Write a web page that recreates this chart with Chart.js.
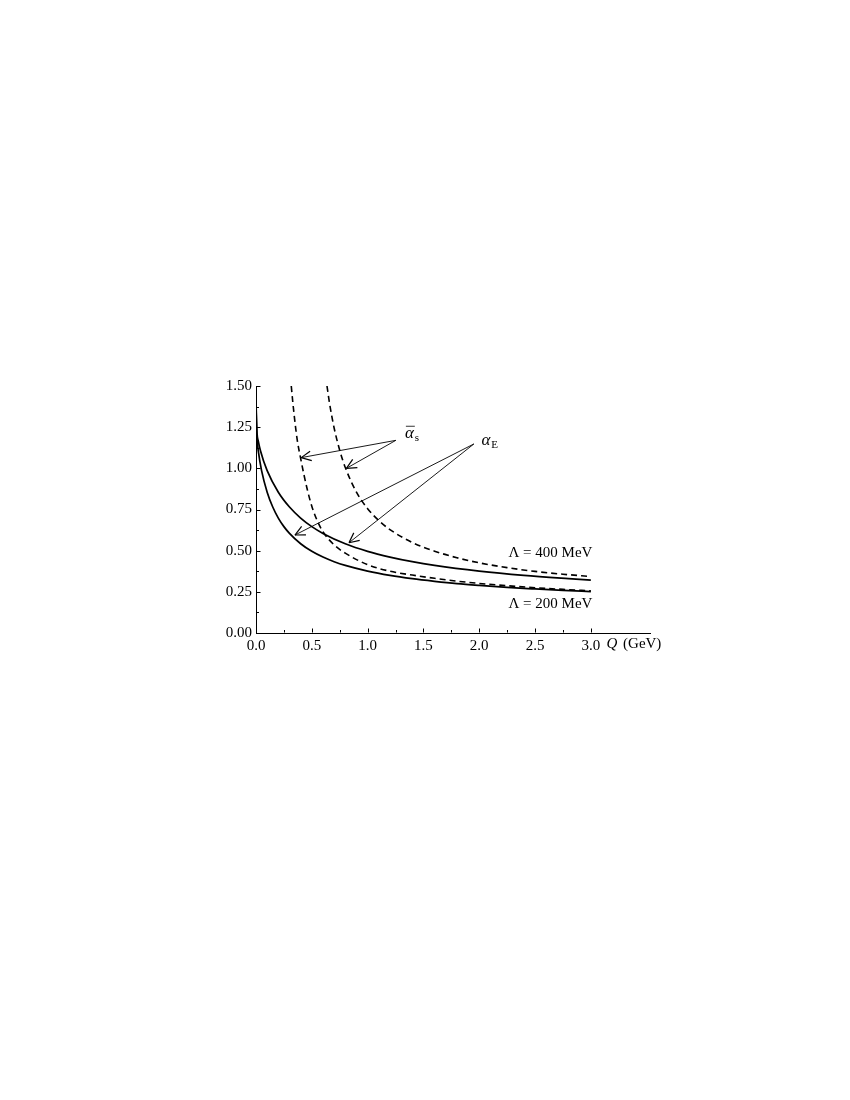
<!DOCTYPE html>
<html lang="en">
<head>
    <meta charset="UTF-8">
    <meta name="viewport" content="width=device-width, initial-scale=1.0">
    <title>Coupling vs Q</title>
    <script src="https://cdn.jsdelivr.net/npm/chart.js"></script>
    <style>
        body { margin: 0; background: #fff; }
        canvas { display: block; }
    </style>
</head>
<body>
    <canvas id="alphaChart" width="850" height="1100"></canvas>
    <script>
        // Q in GeV, coupling
        const qE200 = [0, 0.005, 0.01, 0.02, 0.05, 0.1, 0.15, 0.2, 0.25, 0.3, 0.4, 0.5, 0.6, 0.7, 0.8, 1.0, 1.2, 1.4, 1.6, 1.8, 2.0, 2.25, 2.5, 2.75, 3.0];
        const aE200 = [1.396, 1.208, 1.167, 1.107, 0.986, 0.855, 0.765, 0.698, 0.646, 0.605, 0.542, 0.496, 0.461, 0.433, 0.4105, 0.376, 0.350, 0.330, 0.314, 0.300, 0.289, 0.277, 0.2675, 0.259, 0.2515];

        const qE400 = [0, 0.01, 0.02, 0.04, 0.1, 0.2, 0.3, 0.4, 0.5, 0.6, 0.8, 1.0, 1.2, 1.4, 1.6, 2.0, 2.4, 2.8, 3.0];
        const aE400 = [1.396, 1.208, 1.167, 1.107, 0.986, 0.855, 0.765, 0.698, 0.646, 0.605, 0.542, 0.496, 0.461, 0.433, 0.4105, 0.376, 0.350, 0.330, 0.321];

        const qS200 = [0.316, 0.33, 0.35, 0.37, 0.40, 0.43, 0.46, 0.50, 0.55, 0.60, 0.70, 0.80, 1.0, 1.2, 1.4, 1.6, 1.8, 2.0, 2.25, 2.5, 2.75, 3.0];
        const aS200 = [1.50, 1.40, 1.275, 1.17, 1.06, 0.96, 0.87, 0.77, 0.68, 0.615, 0.535, 0.485, 0.415, 0.375, 0.352, 0.332, 0.315, 0.301, 0.287, 0.275, 0.265, 0.256];

        const qS400 = [0.636, 0.66, 0.70, 0.75, 0.80, 0.90, 1.0, 1.1, 1.2, 1.4, 1.6, 1.8, 2.0, 2.25, 2.5, 2.75, 3.0];
        const aS400 = [1.50, 1.39, 1.245, 1.11, 1.005, 0.855, 0.755, 0.683, 0.628, 0.55, 0.497, 0.457, 0.426, 0.397, 0.374, 0.357, 0.343];

        const xTicks = [0, 0.5, 1.0, 1.5, 2.0, 2.5, 3.0];
        const xMinor = [0.25, 0.75, 1.25, 1.75, 2.25, 2.75];
        const yTicks = [0, 0.25, 0.5, 0.75, 1.0, 1.25, 1.5];
        const yMinor = [0.125, 0.375, 0.625, 0.875, 1.125, 1.375];

        // arrows: [Q, alpha] start -> tip
        const arrowFrom = [[1.253, 1.170], [1.253, 1.170], [1.952, 1.148], [1.952, 1.148]];
        const arrowTo = [[0.405, 1.065], [0.81, 1.0], [0.349, 0.595], [0.833, 0.548]];

        const serif = "'Liberation Serif', 'DejaVu Serif', serif";

        function pts(qs, vs) {
            return qs.map((q, i) => ({ x: q, y: vs[i] }));
        }

        function line(ctx, x1, y1, x2, y2) {
            ctx.beginPath();
            ctx.moveTo(x1, y1);
            ctx.lineTo(x2, y2);
            ctx.stroke();
        }

        const extras = {
            id: 'extras',
            afterDraw(chart) {
                const ctx = chart.ctx;
                const xs = chart.scales.x, ys = chart.scales.y;
                const X = v => xs.getPixelForValue(v);
                const Y = v => ys.getPixelForValue(v);
                const left = Math.round(xs.left) + 0.5, bottom = Math.round(ys.bottom) - 0.5;
                ctx.save();
                ctx.strokeStyle = '#000';
                ctx.fillStyle = '#000';
                ctx.lineWidth = 1;

                // ticks point into the plot
                xTicks.forEach(v => line(ctx, Math.round(X(v)) + 0.5, bottom, Math.round(X(v)) + 0.5, bottom - 4));
                xMinor.forEach(v => line(ctx, Math.round(X(v)) + 0.5, bottom, Math.round(X(v)) + 0.5, bottom - 2.5));
                yTicks.forEach(v => line(ctx, left, Math.round(Y(v)) + 0.5, left + 4, Math.round(Y(v)) + 0.5));
                yMinor.forEach(v => line(ctx, left, Math.round(Y(v)) + 0.5, left + 2.5, Math.round(Y(v)) + 0.5));

                // arrows
                ctx.lineWidth = 0.9;
                arrowFrom.forEach((a, i) => {
                    const x1 = X(a[0]), y1 = Y(a[1]);
                    const x2 = X(arrowTo[i][0]), y2 = Y(arrowTo[i][1]);
                    line(ctx, x1, y1, x2, y2);
                    const ang = Math.atan2(y1 - y2, x1 - x2);
                    ctx.lineWidth = 1.2;
                    [-0.45, 0.45].forEach(d => {
                        line(ctx, x2, y2, x2 + 11 * Math.cos(ang + d), y2 + 11 * Math.sin(ang + d));
                    });
                    ctx.lineWidth = 0.9;
                });

                ctx.textBaseline = 'middle';

                // alpha-bar_s
                let x = X(1.334), y = Y(1.21);
                ctx.font = 'italic 17px ' + serif;
                ctx.textAlign = 'left';
                ctx.fillText('\u03b1', x, y);
                const w = ctx.measureText('\u03b1').width;
                ctx.lineWidth = 0.8;
                line(ctx, x + 1, y - 7.5, x + w + 1, y - 7.5);
                ctx.font = '11px ' + serif;
                ctx.fillText('s', x + w + 1, y + 4);

                // alpha_E
                x = X(2.02); y = Y(1.168);
                ctx.font = 'italic 17px ' + serif;
                ctx.fillText('\u03b1', x, y);
                ctx.font = '11px ' + serif;
                ctx.fillText('E', x + ctx.measureText('\u03b1').width + 4, y + 4);

                // Lambda labels
                ctx.font = '15px ' + serif;
                ctx.textAlign = 'right';
                ctx.fillText('\u039b = 400 MeV', X(3.014), Y(0.483));
                ctx.fillText('\u039b = 200 MeV', X(3.014), Y(0.178));

                // axis title
                x = X(3.14); y = Y(-0.066);
                ctx.textAlign = 'left';
                ctx.font = 'italic 15px ' + serif;
                ctx.fillText('Q', x, y);
                const qw = ctx.measureText('Q').width;
                ctx.font = '15px ' + serif;
                ctx.fillText(' (GeV)', x + qw + 2, y);
                ctx.restore();
            }
        };

        const solid = { borderColor: '#000', borderWidth: 1.7, pointRadius: 0, fill: false, cubicInterpolationMode: 'monotone' };
        const dashed = { borderColor: '#000', borderWidth: 1.6, borderDash: [6, 4], pointRadius: 0, fill: false, cubicInterpolationMode: 'monotone' };

        const ctx = document.getElementById('alphaChart').getContext('2d');
        const chart = new Chart(ctx, {
            type: 'line',
            data: {
                datasets: [
                    { label: 'alphaE 400', data: pts(qE400, aE400), ...solid },
                    { label: 'alphaE 200', data: pts(qE200, aE200), ...solid },
                    { label: 'alphas 400', data: pts(qS400, aS400), ...dashed },
                    { label: 'alphas 200', data: pts(qS200, aS200), ...dashed }
                ]
            },
            options: {
                responsive: false,
                animation: false,
                layout: { padding: { left: 216, right: 200, top: 386, bottom: 437 } },
                plugins: { legend: { display: false }, tooltip: { enabled: false } },
                scales: {
                    x: {
                        type: 'linear',
                        min: 0,
                        max: 3.53,
                        afterBuildTicks: s => { s.ticks = xTicks.map(v => ({ value: v })); },
                        afterFit: s => { s.height = 30; },
                        grid: { display: false, drawTicks: false },
                        border: { display: true, color: '#000', width: 1 },
                        ticks: {
                            callback: v => Number(v).toFixed(1),
                            color: '#000',
                            font: { family: serif, size: 15 },
                            padding: 4,
                            maxRotation: 0,
                            autoSkip: false
                        }
                    },
                    y: {
                        min: 0,
                        max: 1.5,
                        afterBuildTicks: s => { s.ticks = yTicks.map(v => ({ value: v })); },
                        afterFit: s => { s.width = 40; },
                        grid: { display: false, drawTicks: false },
                        border: { display: true, color: '#000', width: 1 },
                        ticks: {
                            callback: v => Number(v).toFixed(2),
                            color: '#000',
                            font: { family: serif, size: 15 },
                            padding: 4
                        }
                    }
                }
            },
            plugins: [extras]
        });
    </script>
</body>
</html>
